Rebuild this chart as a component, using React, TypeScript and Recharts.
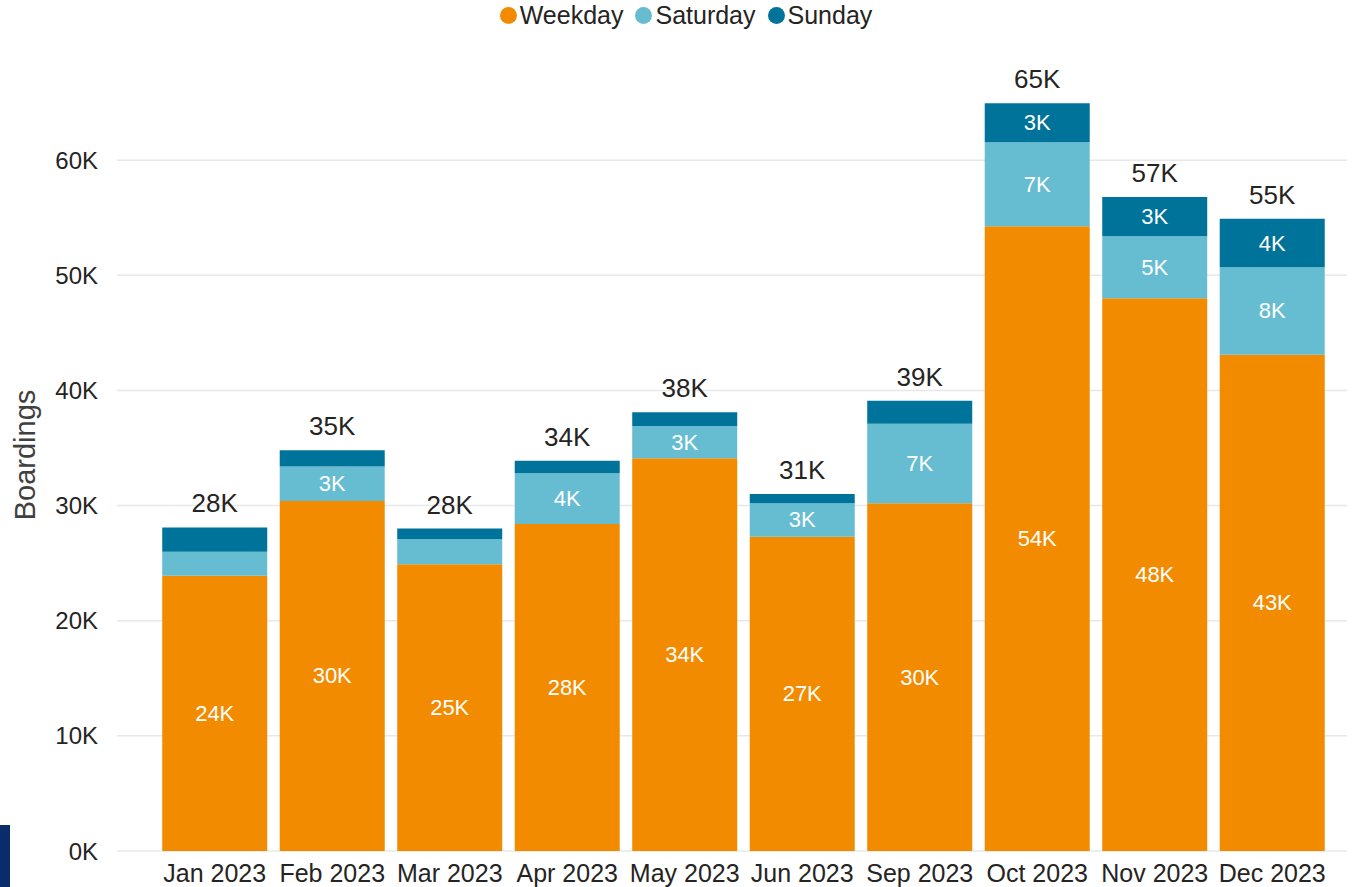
import { Bar, BarChart, CartesianGrid, Label, LabelList, XAxis, YAxis } from "recharts"

const months = ["Jan 2023", "Feb 2023", "Mar 2023", "Apr 2023", "May 2023", "Jun 2023", "Sep 2023", "Oct 2023", "Nov 2023", "Dec 2023"]
const weekday = [23900, 30400, 24900, 28400, 34100, 27300, 30200, 54250, 48000, 43100]
const saturday = [2100, 3000, 2200, 4400, 2800, 2900, 6900, 7300, 5400, 7600]
const sunday = [2100, 1400, 900, 1100, 1200, 800, 2000, 3400, 3400, 4200]
const yTicks = [0, 10000, 20000, 30000, 40000, 50000, 60000]

const colors = { weekday: "#F28B00", saturday: "#66BDD1", sunday: "#00739A" }
const font = "'Liberation Sans', Arial, sans-serif"
const textColor = "#252423"

const rows = months.map((month, i) => ({
  month,
  weekday: weekday[i],
  saturday: saturday[i],
  sunday: sunday[i],
  total: weekday[i] + saturday[i] + sunday[i],
}))

const fmtK = (v: number) => `${Math.round(v / 1000)}K`

function InnerLabel(props: any) {
  const { x, y, width, height, value } = props
  // small segments get no label, like the source
  if (value < 2500) return null
  return (
    <text
      x={x + width / 2}
      y={y + height / 2}
      fill="#fff"
      textAnchor="middle"
      dominantBaseline="central"
      fontSize={22}
      fontFamily={font}
    >
      {fmtK(value)}
    </text>
  )
}

function TotalLabel(props: any) {
  const { x, y, width, value } = props
  return (
    <text x={x + width / 2} y={y - 15} fill={textColor} textAnchor="middle" fontSize={26} fontFamily={font}>
      {fmtK(value)}
    </text>
  )
}

function MonthTick(props: any) {
  const { x, y, payload } = props
  return (
    <text x={x} y={y} dy={14} fill={textColor} textAnchor="middle" dominantBaseline="central" fontSize={25} fontFamily={font}>
      {payload.value}
    </text>
  )
}

const legendItems = [
  { name: "Weekday", color: colors.weekday },
  { name: "Saturday", color: colors.saturday },
  { name: "Sunday", color: colors.sunday },
]

export default function App() {
  return (
    <div style={{ position: "absolute", left: 0, top: 0, width: 1357, height: 887, background: "#fff", fontFamily: font }}>
      <div
        style={{
          position: "absolute",
          top: 1,
          left: 0,
          width: 1372,
          display: "flex",
          justifyContent: "center",
          gap: 12,
          fontSize: 25,
          color: textColor,
        }}
      >
        {legendItems.map((item) => (
          <div key={item.name} style={{ display: "flex", alignItems: "center", gap: 3 }}>
            <span style={{ width: 17, height: 17, borderRadius: "50%", background: item.color, display: "inline-block" }} />
            <span>{item.name}</span>
          </div>
        ))}
      </div>
      <div style={{ position: "absolute", left: 0, top: 825, width: 10, height: 62, background: "#0B2C6B" }} />
      <BarChart width={1357} height={887} data={rows} margin={{ top: 45, right: 10, bottom: 0, left: 0 }} barCategoryGap="5.3%">
        <CartesianGrid vertical={false} horizontalValues={yTicks} stroke="#E8E8E8" strokeWidth={1.5} />
        <XAxis
          dataKey="month"
          axisLine={false}
          tickLine={false}
          height={36}
          padding={{ left: 39, right: 16 }}
          interval={0}
          tick={<MonthTick />}
        />
        <YAxis
          width={117}
          domain={[0, 70000]}
          ticks={yTicks}
          axisLine={false}
          tickLine={false}
          tickSize={0}
          tickMargin={19}
          tickFormatter={fmtK}
          tick={{ fontSize: 24, fill: textColor, fontFamily: font }}
        >
          <Label
            content={() => (
              <text transform="translate(35,455) rotate(-90)" textAnchor="middle" fill="#404040" fontSize={29} fontFamily={font}>
                Boardings
              </text>
            )}
          />
        </YAxis>
        <Bar dataKey="weekday" stackId="a" fill={colors.weekday} isAnimationActive={false}>
          <LabelList dataKey="weekday" content={<InnerLabel />} />
        </Bar>
        <Bar dataKey="saturday" stackId="a" fill={colors.saturday} isAnimationActive={false}>
          <LabelList dataKey="saturday" content={<InnerLabel />} />
        </Bar>
        <Bar dataKey="sunday" stackId="a" fill={colors.sunday} isAnimationActive={false}>
          <LabelList dataKey="sunday" content={<InnerLabel />} />
          <LabelList dataKey="total" content={<TotalLabel />} />
        </Bar>
      </BarChart>
    </div>
  )
}
